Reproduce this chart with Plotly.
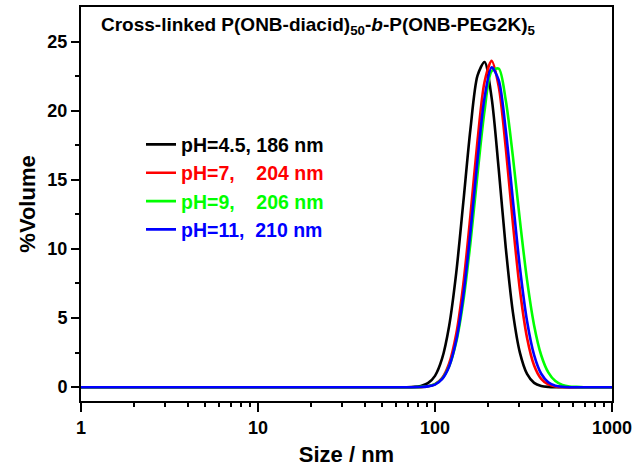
import plotly.graph_objects as go

# Particle size (nm)
sizes = [1, 63.1, 69.2, 75.9, 83.2, 91.2, 100.0, 109.6, 120.2, 131.8, 144.5, 158.5,
         173.8, 190.5, 208.9, 229.1, 251.2, 275.4, 302.0, 331.1, 363.1, 398.1,
         436.5, 478.6, 524.8, 575.4, 631.0, 691.8, 758.6, 831.8, 912.0, 1000.0]

vol_ph45 = [0, 0, 0, 0.02, 0.09, 0.29, 0.82, 2.06, 4.43, 8.27, 13.36, 18.65,
            22.53, 23.52, 20.93, 15.77, 10.06, 5.43, 2.48, 0.96, 0.31, 0.09,
            0.02, 0, 0, 0, 0, 0, 0, 0, 0, 0]
vol_ph7 = [0, 0, 0, 0, 0, 0.06, 0.22, 0.66, 1.72, 3.85, 7.44, 12.40,
           17.81, 22.08, 23.60, 21.75, 17.29, 11.86, 7.01, 3.58, 1.57, 0.60,
           0.20, 0.06, 0.01, 0, 0, 0, 0, 0, 0, 0]
vol_ph9 = [0, 0, 0, 0, 0.02, 0.07, 0.22, 0.61, 1.51, 3.27, 6.22, 10.43,
           15.39, 19.99, 22.86, 23.04, 20.73, 16.69, 12.03, 7.76, 4.47, 2.31,
           1.07, 0.44, 0.16, 0.05, 0.02, 0, 0, 0, 0, 0]
vol_ph11 = [0, 0, 0, 0, 0.01, 0.06, 0.19, 0.58, 1.50, 3.39, 6.61, 11.19,
            16.44, 20.94, 23.13, 22.20, 18.58, 13.55, 8.62, 4.78, 2.31, 0.97,
            0.36, 0.11, 0.03, 0, 0, 0, 0, 0, 0, 0]

names = ["pH=4.5,\u00a0186 nm", "pH=7,\u00a0\u00a0\u00a0\u00a0204 nm",
         "pH=9,\u00a0\u00a0\u00a0\u00a0206 nm", "pH=11,\u00a0\u00a0210 nm"]
colors = ["#000000", "#FF0000", "#00FF00", "#0000FF"]
series = [vol_ph45, vol_ph7, vol_ph9, vol_ph11]

x_major = [1, 10, 100, 1000]
x_minor = [m * d for d in (1, 10, 100) for m in range(2, 10)]
y_ticks = [0, 5, 10, 15, 20, 25]
y_minor = [2.5, 7.5, 12.5, 17.5, 22.5]

FONT = "Liberation Sans"

fig = go.Figure()
for nm, col, ys in zip(names, colors, series):
    fig.add_trace(go.Scatter(
        x=sizes, y=ys, mode="lines", line=dict(color=col, width=2.6, shape="spline", smoothing=0.8),
        name=f"<b><span style='color:{col}'>{nm}</span></b>", legendgroup=nm,
        hoverinfo="skip"))

axis_common = dict(showline=True, linecolor="black", linewidth=2, mirror=True,
                   ticks="outside", tickcolor="black", tickwidth=2, showgrid=False,
                   zeroline=False, automargin=False,
                   tickfont=dict(family=FONT, size=18, color="black", weight="bold"))

fig.update_xaxes(type="log", range=[0, 3], tickvals=x_major, ticktext=["1", "10", "100", "1000"],
                 ticklen=9,
                 minor=dict(tickvals=x_minor, ticks="outside", ticklen=4, tickwidth=1.5, tickcolor="black",
                            showgrid=False),
                 title=dict(text="<b>Size / nm</b>", font=dict(family=FONT, size=22, color="black"),
                            standoff=10),
                 **axis_common)
fig.update_yaxes(range=[-1, 27.5], tickvals=y_ticks, ticklen=8,
                 minor=dict(tickvals=y_minor, ticks="outside", ticklen=4, tickwidth=1.5, tickcolor="black",
                            showgrid=False),
                 title=dict(text="<b>%Volume</b>", font=dict(family=FONT, size=22, color="black"),
                            standoff=6),
                 **axis_common)

fig.add_annotation(
    text="<b>Cross-linked P(ONB-diacid)<sub>50</sub>-<i>b</i>-P(ONB-PEG2K)<sub>5</sub></b>",
    xref="paper", yref="paper", x=0.447, y=0.953, xanchor="center", yanchor="middle",
    showarrow=False, font=dict(family=FONT, size=19, color="black"))

fig.update_layout(
    width=634, height=473,
    margin=dict(l=81, r=22, t=7, b=72),
    paper_bgcolor="white", plot_bgcolor="white",
    showlegend=True,
    legend=dict(x=0.113, y=0.70, xanchor="left", yanchor="top", bgcolor="rgba(0,0,0,0)",
                font=dict(family=FONT, size=19.5, color="black"), tracegroupgap=0,
                itemwidth=30),
)

fig.write_html("out.html")
